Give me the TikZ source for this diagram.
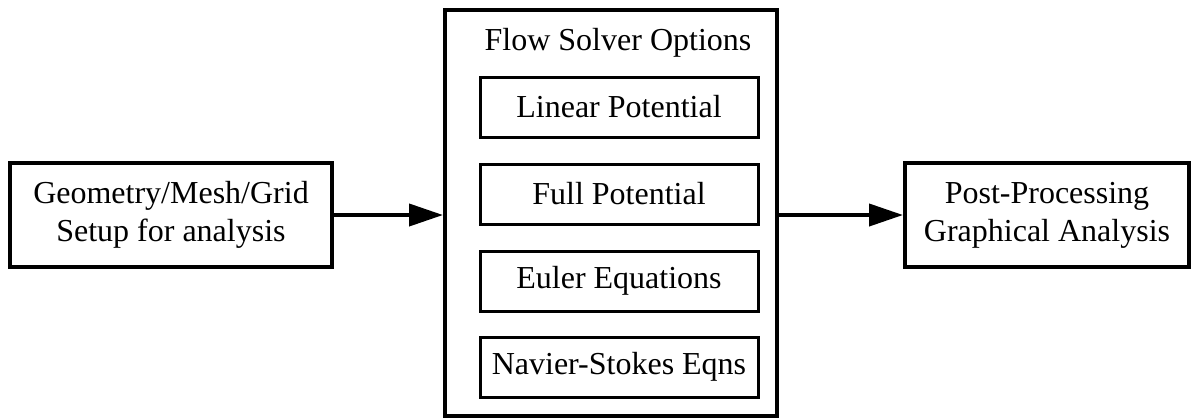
\documentclass[tikz,border=0pt]{standalone}
\usepackage{fontspec}
\setmainfont{Liberation Serif}
\usetikzlibrary{arrows.meta}
\tikzset{
  block/.style={draw,line width=2pt,align=center,font=\fontsize{16}{19}\selectfont},
  option/.style={draw,line width=1.5pt,minimum width=139pt,minimum height=30pt,font=\fontsize{16}{19}\selectfont},
  flow/.style={-{Triangle[length=17pt,width=11pt]},line width=2pt}
}
\begin{document}
\begin{tikzpicture}[x=0.5pt,y=-0.5pt]
                \useasboundingbox (0,0) rectangle (1198,419);
                \node[block,minimum width=161pt,minimum height=52pt] (geom) at (171,215) {Geometry/Mesh/Grid\\Setup for analysis};
                \node[block,minimum width=166pt,minimum height=203pt] (solver) at (611,213) {};
                \node[font=\fontsize{16}{19}\selectfont] (title) at (618,43) {Flow Solver Options};
                \node[option] (lin) at (619,107) {Linear Potential};
                \node[option] (full) at (619,194) {Full Potential};
                \node[option] (euler) at (619,281) {Euler Equations};
                \node[option] (ns) at (619,367) {Navier-Stokes Eqns};
                \node[block,minimum width=142pt,minimum height=52pt] (post) at (1047,215) {Post-Processing\\Graphical Analysis};
                \draw[flow] (geom) -- (geom -| solver.west);
                \draw[flow] (post -| solver.east) -- (post);
            \end{tikzpicture}
\end{document}
